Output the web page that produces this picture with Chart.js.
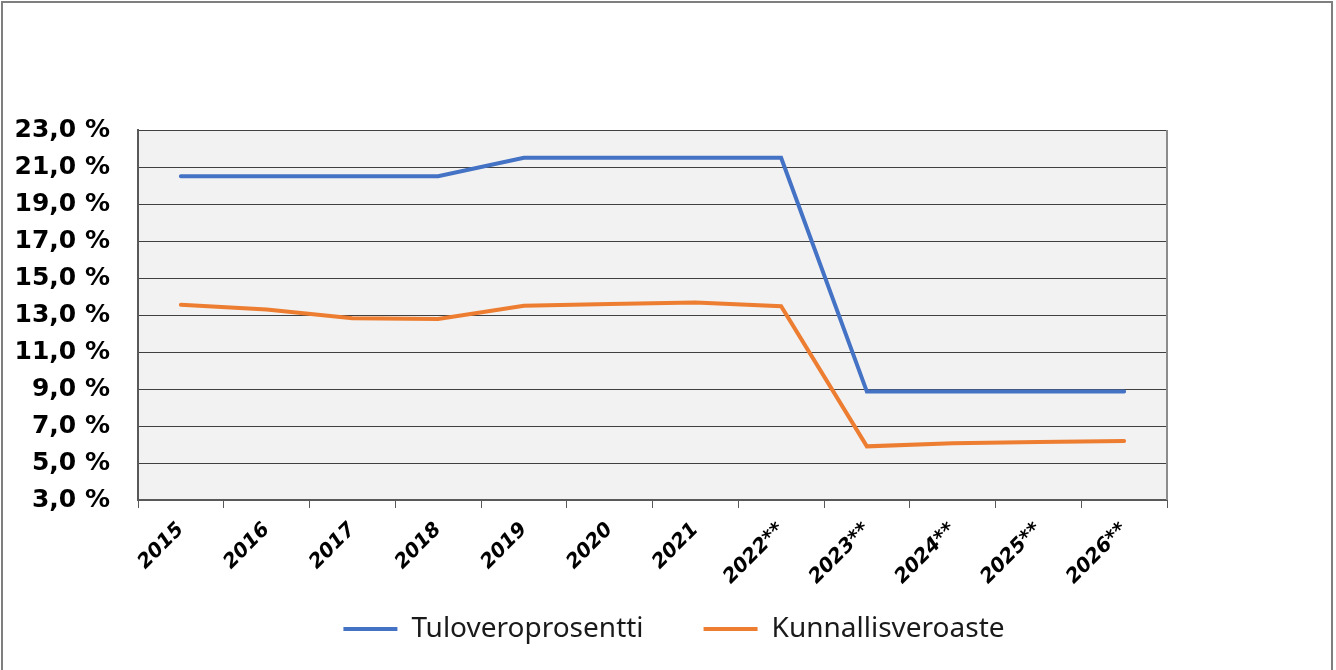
<!DOCTYPE html>
<html>
<head>
<meta charset="utf-8">
<script src="https://cdn.jsdelivr.net/npm/chart.js@4.4.1/dist/chart.umd.min.js"></script>
<style>
  html, body { margin: 0; padding: 0; background: #fff; }
  #wrap { position: relative; width: 1336px; height: 670px; }
  #frame {
    position: absolute; left: 1px; top: 1px; width: 1328px; height: 700px;
    border: 2px solid #7f7f7f; pointer-events: none;
  }
</style>
</head>
<body>
<div id="wrap">
  <canvas id="myChart" width="1336" height="670"></canvas>
  <div id="frame"></div>
</div>
<script>
// Datos
const years = ['2015', '2016', '2017', '2018', '2019', '2020', '2021', '2022**', '2023**', '2024**', '2025**', '2026**'];
const tuloveroprosentti = [20.5, 20.5, 20.5, 20.5, 21.5, 21.5, 21.5, 21.5, 8.86, 8.86, 8.86, 8.86];
const kunnallisveroaste = [13.55, 13.3, 12.82, 12.78, 13.5, 13.6, 13.67, 13.47, 5.9, 6.07, 6.13, 6.19];
const yMin = 3, yMax = 23, yStep = 2;

// Fondo gris del área + marco derecho
const plotFrame = {
  id: 'plotFrame',
  afterLayout(chart) {
    // que las etiquetas giradas no se recorten
    chart.scales.x.bottom = chart.height;
  },
  beforeDraw(chart) {
    const { ctx, chartArea: a } = chart;
    ctx.save();
    ctx.fillStyle = '#f2f2f2';
    ctx.fillRect(a.left, a.top, a.right - a.left, a.bottom - a.top);
    ctx.restore();
  },
  afterDatasetsDraw(chart) {
    const { ctx, chartArea: a } = chart;
    ctx.save();
    ctx.strokeStyle = '#8c8c8c';
    ctx.lineWidth = 2;
    ctx.beginPath();
    ctx.moveTo(a.right, a.top);
    ctx.lineTo(a.right, a.bottom);
    ctx.stroke();
    ctx.restore();
  }
};

const ctx = document.getElementById('myChart').getContext('2d');

new Chart(ctx, {
  type: 'line',
  data: {
    labels: years,
    datasets: [
      {
        label: 'Tuloveroprosentti',
        data: tuloveroprosentti,
        borderColor: '#4472c4',
        backgroundColor: '#4472c4',
        borderWidth: 4,
        pointRadius: 0,
        tension: 0,
        borderCapStyle: 'round'
      },
      {
        label: 'Kunnallisveroaste',
        data: kunnallisveroaste,
        borderColor: '#ed7d31',
        backgroundColor: '#ed7d31',
        borderWidth: 4,
        pointRadius: 0,
        tension: 0,
        borderCapStyle: 'round'
      }
    ]
  },
  options: {
    responsive: false,
    animation: false,
    layout: { padding: { left: 12, right: 0, top: 130, bottom: 17 } },
    scales: {
      x: {
        offset: true,
        grid: { drawOnChartArea: false, offset: true, tickLength: 8, color: '#595959', tickColor: '#595959' },
        border: { color: '#595959', width: 2 },
        ticks: {
          minRotation: 45,
          maxRotation: 45,
          padding: 10,
          color: '#000',
          font: { family: "'DejaVu Sans'", size: 20, weight: 'bold', style: 'italic' }
        },
        afterFit: (scale) => { scale.height = 55; }
      },
      y: {
        min: yMin,
        max: yMax,
        grid: { color: '#404040', lineWidth: 1, drawTicks: false },
        border: { color: '#595959', width: 2 },
        ticks: {
          stepSize: yStep,
          padding: 28,
          color: '#000',
          font: { family: "'DejaVu Sans'", size: 25, weight: 'bold' },
          callback: (v) => v.toFixed(1).replace('.', ',') + ' %'
        },
        afterFit: (scale) => { scale.width = 126; }
      },
      // eje vacío a la derecha, sólo reserva espacio
      yRight: {
        position: 'right',
        display: true,
        min: yMin,
        max: yMax,
        grid: { drawOnChartArea: false, drawTicks: false },
        border: { display: false },
        ticks: { display: false },
        afterFit: (scale) => { scale.width = 169; }
      }
    },
    plugins: {
      legend: {
        position: 'bottom',
        labels: {
          boxWidth: 54,
          boxHeight: 4,
          padding: 60,
          color: '#1a1a1a',
          font: { family: "'Noto Sans'", size: 28 },
          generateLabels: (chart) => chart.data.datasets.map((ds, i) => ({
            text: ds.label,
            fillStyle: ds.borderColor,
            strokeStyle: ds.borderColor,
            lineWidth: 0,
            fontColor: '#1a1a1a',
            datasetIndex: i
          }))
        }
      },
      tooltip: { enabled: false }
    }
  },
  plugins: [plotFrame]
});
</script>
</body>
</html>
